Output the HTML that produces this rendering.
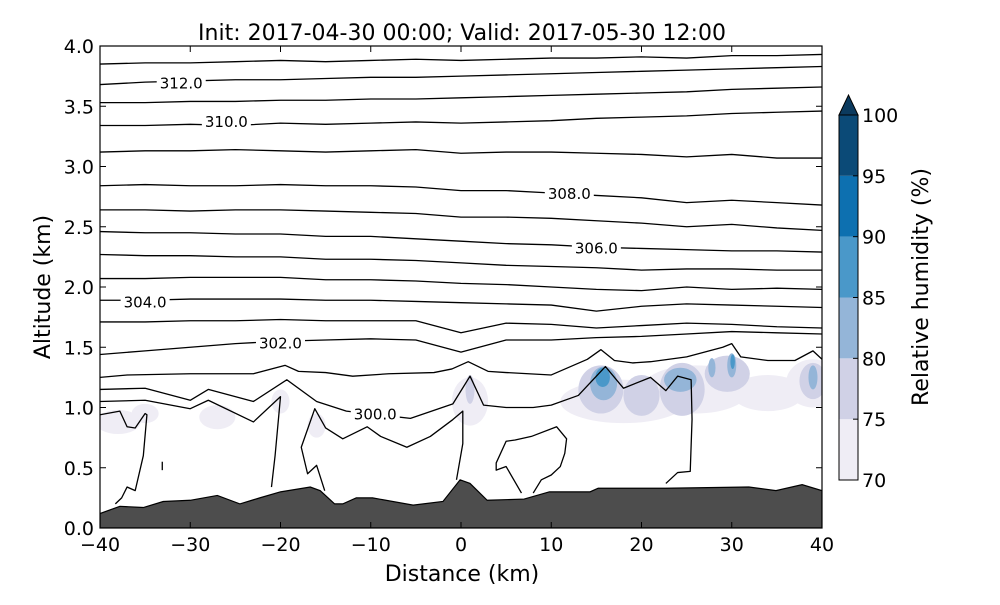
<!DOCTYPE html>
<html><head><meta charset="utf-8"><style>
body{margin:0;background:#fff}
svg text{font-family:"DejaVu Sans","Liberation Sans",sans-serif}
</style></head><body>
<svg id="chart" width="1000" height="600" viewBox="0 0 1000 600" xmlns="http://www.w3.org/2000/svg">
<rect width="1000" height="600" fill="#fff"/>
<text x="462" y="40" font-size="22" text-anchor="middle">Init: 2017-04-30 00:00; Valid: 2017-05-30 12:00</text>
<g id="plot"></g>
<g id="axes"></g>
<text x="462" y="581" font-size="22" text-anchor="middle">Distance (km)</text>
<text x="0" y="0" font-size="22" text-anchor="middle" transform="translate(50,287) rotate(-90)">Altitude (km)</text>
<g id="cbar"></g>
<text x="0" y="0" font-size="22" text-anchor="middle" transform="translate(928,287) rotate(-90)">Relative humidity (%)</text>
</svg>
<script>
const NS="http://www.w3.org/2000/svg";
const xGrid=[-40,-35,-30,-25,-20,-15,-10,-5,0,5,10,15,20,25,30,35,40];
const isentropes=[
[3.85,3.86,3.86,3.87,3.88,3.87,3.88,3.89,3.88,3.89,3.90,3.90,3.91,3.90,3.92,3.92,3.93],
[3.68,3.70,3.71,3.72,3.72,3.73,3.74,3.74,3.75,3.76,3.77,3.78,3.79,3.80,3.81,3.82,3.83],
[3.53,3.53,3.54,3.54,3.55,3.55,3.56,3.56,3.57,3.58,3.59,3.60,3.61,3.62,3.64,3.65,3.66],
[3.34,3.34,3.35,3.34,3.36,3.35,3.36,3.37,3.36,3.37,3.38,3.40,3.41,3.42,3.44,3.45,3.46],
[3.12,3.13,3.13,3.14,3.13,3.12,3.13,3.14,3.11,3.12,3.12,3.11,3.10,3.08,3.10,3.07,3.07],
[2.84,2.85,2.84,2.84,2.85,2.84,2.84,2.83,2.80,2.80,2.78,2.76,2.74,2.70,2.72,2.70,2.68],
[2.64,2.64,2.63,2.64,2.64,2.63,2.62,2.61,2.58,2.58,2.57,2.55,2.53,2.50,2.52,2.49,2.47],
[2.46,2.45,2.45,2.44,2.44,2.42,2.42,2.40,2.38,2.36,2.35,2.33,2.32,2.31,2.30,2.30,2.29],
[2.27,2.26,2.26,2.25,2.25,2.23,2.23,2.22,2.20,2.18,2.17,2.16,2.14,2.15,2.15,2.14,2.14],
[2.07,2.07,2.08,2.08,2.08,2.06,2.06,2.05,2.03,2.02,2.00,1.98,1.97,2.00,1.98,1.99,1.98],
[1.89,1.89,1.90,1.90,1.90,1.89,1.89,1.88,1.87,1.86,1.85,1.80,1.84,1.86,1.85,1.84,1.83],
[1.71,1.71,1.72,1.72,1.73,1.72,1.72,1.72,1.62,1.70,1.69,1.66,1.68,1.70,1.69,1.67,1.66],
[1.44,1.47,1.50,1.53,1.55,1.56,1.57,1.56,1.46,1.56,1.56,1.58,1.59,1.61,1.63,1.62,1.61]
];
const contourA=[[-40,1.25],[-37,1.27],[-30,1.28],[-23,1.28],[-19.5,1.35],[-18,1.30],[-15,1.29],[-12,1.26],[-8,1.28],[-3,1.29],[-1,1.32],[0.8,1.38],[3,1.30],[5,1.29],[10,1.27],[14,1.40],[15.5,1.48],[17,1.39],[19,1.37],[21,1.38],[25,1.42],[29,1.50],[30,1.53],[31,1.42],[34,1.39],[37,1.39],[39,1.47],[40,1.40]];
const contourB=[[-40,1.15],[-35,1.16],[-30,1.06],[-28,1.15],[-23,1.05],[-19.3,1.23],[-16,1.05],[-12.7,0.97],[-8,0.93],[-5.6,0.91],[-0.9,1.03],[1,1.26],[2.5,1.02],[5,1.00],[8,1.00],[10,1.02],[13,1.10],[16,1.34],[18,1.16],[21,1.25],[22.7,1.14],[24,1.26],[25.5,1.23],[25.6,0.9],[25.4,0.47],[24,0.46],[22.7,0.37]];
const contourC=[[-40,1.05],[-35,1.06],[-30,0.99],[-28,1.06],[-23,0.88],[-20,1.09],[-20.6,0.6],[-21,0.34]];
const contourD=[[-15.1,0.31],[-16.0,0.52],[-17.0,0.45],[-17.7,0.67],[-16.2,0.99],[-15.0,0.83],[-13.1,0.74],[-10.4,0.84],[-8.9,0.76],[-6.0,0.67],[-3.4,0.76],[-0.9,0.90],[0.2,0.97],[0.2,0.7],[-0.5,0.40]];
const contourE=[[-40,0.94],[-37.8,0.97],[-37.0,0.84],[-36.1,0.83],[-35.0,0.95],[-34.8,0.94],[-35.2,0.6],[-36.1,0.31],[-37.0,0.34],[-37.6,0.25],[-38.3,0.20]];
const contourF=[[6.7,0.29],[5.0,0.51],[3.9,0.48],[3.9,0.54],[5.0,0.72],[6.0,0.73],[7.8,0.76],[10.6,0.84],[11.7,0.74],[11.5,0.62],[11.0,0.51],[10.0,0.44],[8.9,0.40],[8.0,0.29]];
const contourG=[[-33.1,0.55],[-33.1,0.48]];
const terrainX=[-40,-37.8,-35.2,-33,-30,-27,-24.5,-22.3,-20,-16.7,-15.6,-14,-13.1,-11.6,-9.8,-5.3,-2,-0.1,1.0,2.9,7,9.8,14.3,15.2,22.7,31.9,34.9,37.8,40];
const terrainAlt=[0.12,0.18,0.17,0.22,0.23,0.27,0.20,0.25,0.30,0.34,0.31,0.20,0.20,0.25,0.25,0.19,0.22,0.40,0.37,0.23,0.24,0.30,0.30,0.33,0.33,0.34,0.31,0.36,0.31];
const rhLevels=[70,75,80,85,90,95,100];
const rhColors=["#efedf5","#d0d1e6","#94b5d8","#4a98c9","#0d70b0","#0b4a77"];
const blobX=[-38,-35,-27,-20,-16,1,18,26,34,39,15.5,20,24.5,29.5,39,1,15.8,24.3,27.8,30,39,15.7,30.1];
const blobAlt=[0.88,0.95,0.92,1.05,0.85,1.05,1.05,1.15,1.12,1.2,1.15,1.1,1.15,1.28,1.22,1.15,1.2,1.23,1.33,1.35,1.25,1.25,1.38];
const blobRx=[2.5,1.5,2,1,1,2,7,6,4,3,2.5,2,2.5,2.5,1.5,0.5,1.5,1.8,0.4,0.5,0.5,0.8,0.25];
const blobRy=[0.1,0.08,0.1,0.1,0.1,0.2,0.18,0.2,0.15,0.2,0.2,0.17,0.22,0.15,0.15,0.12,0.14,0.1,0.08,0.1,0.1,0.08,0.06];
const blobLevel=[0,0,0,0,0,0,0,0,0,0,1,1,1,1,1,1,2,2,2,2,2,3,3];
const xTicks=[-40,-30,-20,-10,0,10,20,30,40];
const yTicks=[0.0,0.5,1.0,1.5,2.0,2.5,3.0,3.5,4.0];
const labelText=["312.0","310.0","308.0","306.0","304.0","302.0","300.0"];
const labelX=[-31,-26,12,15,-35,-20,-9.5];
const labelAlt=[3.69,3.37,2.77,2.32,1.87,1.53,0.94];

const X0=100,X1=822,Y0=528,Y1=46;
const sx=v=>X0+(v+40)*(X1-X0)/80;
const sy=v=>Y0-v*(Y0-Y1)/4;
const plot=document.getElementById('plot');
function mk(tag,attrs,parent){const e=document.createElementNS(NS,tag);for(const k in attrs)e.setAttribute(k,attrs[k]);parent.appendChild(e);return e;}
const clip=mk('clipPath',{id:'pc'},plot);mk('rect',{x:X0,y:Y1,width:X1-X0,height:Y0-Y1},clip);
const g=mk('g',{'clip-path':'url(#pc)'},plot);
blobX.forEach((bx,i)=>{
 const e=mk('ellipse',{cx:sx(bx),cy:sy(blobAlt[i]),rx:blobRx[i]*(X1-X0)/80,ry:blobRy[i]*(Y0-Y1)/4,fill:rhColors[blobLevel[i]]},g);
 
 
});
function line(pts,name){
 const e=mk('polyline',{points:pts.map(p=>sx(p[0])+','+sy(p[1])).join(' '),fill:'none',stroke:'#000','stroke-width':1.3,'stroke-linejoin':'round'},g);
 
 
}
isentropes.forEach((arr,i)=>line(arr.map((v,j)=>[xGrid[j],v]),'isentrope-line'));
[contourA,contourB,contourC,contourD,contourE,contourF,contourG].forEach(c=>line(c,'isentrope-line'));
const tp=[[terrainX[0],0]].concat(terrainX.map((x,i)=>[x,terrainAlt[i]])).concat([[terrainX[terrainX.length-1],0]]);
const terr=mk('polygon',{points:tp.map(p=>sx(p[0])+','+sy(p[1])).join(' '),fill:'#4d4d4d',stroke:'#000','stroke-width':1.2},g);


labelText.forEach((t,i)=>{
 const w=t.length*8.6;
 mk('rect',{x:sx(labelX[i])-w/2-3,y:sy(labelAlt[i])-9,width:w+6,height:18,fill:'#fff'},g);
 const e=mk('text',{x:sx(labelX[i]),y:sy(labelAlt[i])+5,'font-size':15,'text-anchor':'middle'},g);
 e.textContent=t;
 
 
});
const ax=document.getElementById('axes');
mk('rect',{x:X0,y:Y1,width:X1-X0,height:Y0-Y1,fill:'none',stroke:'#000','stroke-width':1.2},ax);
xTicks.forEach(v=>{
 mk('line',{x1:sx(v),x2:sx(v),y1:Y0,y2:Y0-6,stroke:'#000'},ax);
 mk('line',{x1:sx(v),x2:sx(v),y1:Y1,y2:Y1+6,stroke:'#000'},ax);
 const t=mk('text',{x:sx(v),y:Y0+23,'font-size':19,'text-anchor':'middle'},ax);
 t.textContent=(v<0?'\u2212'+(-v):v);
 
 
});
yTicks.forEach(v=>{
 mk('line',{x1:X0,x2:X0+6,y1:sy(v),y2:sy(v),stroke:'#000'},ax);
 mk('line',{x1:X1,x2:X1-6,y1:sy(v),y2:sy(v),stroke:'#000'},ax);
 const t=mk('text',{x:X0-6,y:sy(v)+7,'font-size':19,'text-anchor':'end'},ax);
 t.textContent=v.toFixed(1);
 
 
});
const cb=document.getElementById('cbar');
const CX=839,CW=19,CT=115,CB=480;
const cy=v=>CB-(v-70)*(CB-CT)/30;
rhColors.forEach((c,i)=>{
 const r=mk('rect',{x:CX,y:cy(rhLevels[i+1]),width:CW,height:cy(rhLevels[i])-cy(rhLevels[i+1]),fill:c},cb);
 
 
});
mk('polygon',{points:`${CX},${CT} ${CX+CW/2},95 ${CX+CW},${CT}`,fill:'#0b3a5e',stroke:'#000','stroke-width':1},cb);
mk('rect',{x:CX,y:CT,width:CW,height:CB-CT,fill:'none',stroke:'#000','stroke-width':1},cb);
rhLevels.forEach(v=>{
 mk('line',{x1:CX+CW-5,x2:CX+CW,y1:cy(v),y2:cy(v),stroke:'#000'},cb);
 const t=mk('text',{x:CX+CW+4,y:cy(v)+7,'font-size':19},cb);
 t.textContent=v;
 
 
});
</script>
</body></html>
